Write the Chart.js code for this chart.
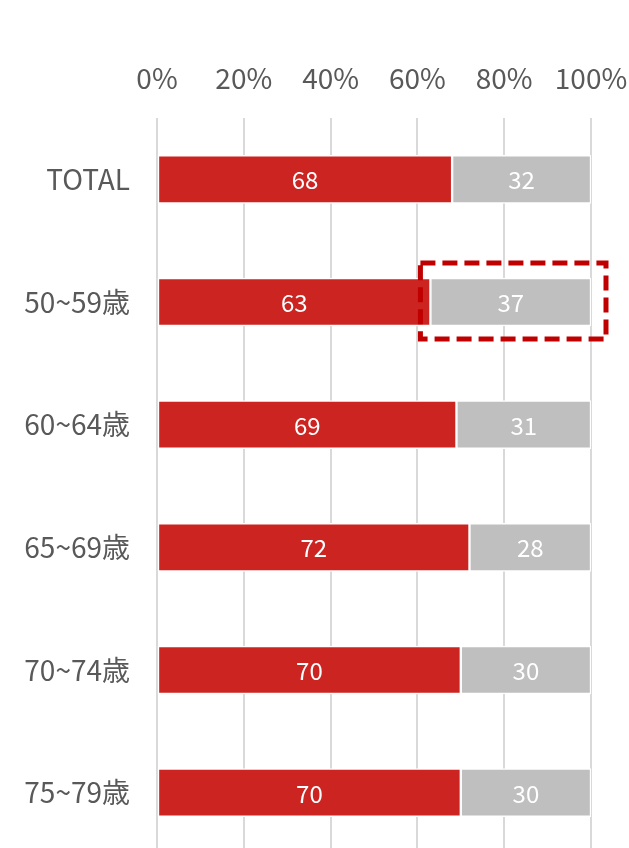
<!DOCTYPE html>
<html>
<head>
<meta charset="utf-8">
<script src="https://cdn.jsdelivr.net/npm/chart.js@4"></script>
<style>
  html, body { margin: 0; padding: 0; background: #fff; overflow: hidden; }
  #wrap { width: 629px; height: 848px; overflow: hidden; }
</style>
</head>
<body>
<div id="wrap"><canvas id="ageChart" width="629" height="854"></canvas></div>
<script>
// age groups and the two shares (%)
const categories = ['TOTAL', '50~59歳', '60~64歳', '65~69歳', '70~74歳', '75~79歳'];
const redValues = [68, 63, 69, 72, 70, 70];
const greyValues = [32, 37, 31, 28, 30, 30];
const tickValues = [0, 20, 40, 60, 80, 100];

const FONT = '"Noto Sans CJK JP", "Noto Sans", sans-serif';

// white numbers in the middle of each segment
const barLabels = {
    id: 'barLabels',
    afterDatasetsDraw(chart) {
        const ctx = chart.ctx;
        ctx.save();
        ctx.fillStyle = '#ffffff';
        ctx.font = '24px ' + FONT;
        ctx.textAlign = 'center';
        ctx.textBaseline = 'middle';
        chart.data.datasets.forEach((ds, i) => {
            chart.getDatasetMeta(i).data.forEach((bar, j) => {
                const x = (bar.base + bar.x) / 2;
                ctx.fillText(ds.data[j], x, bar.y + 1);
            });
        });
        ctx.restore();
    }
};

// dashed box around the grey segment of 50~59歳
const highlightBox = {
    id: 'highlightBox',
    afterDatasetsDraw(chart) {
        const bar = chart.getDatasetMeta(1).data[1];
        const ctx = chart.ctx;
        const top = bar.y - bar.height / 2;
        const bottom = bar.y + bar.height / 2;
        ctx.save();
        ctx.strokeStyle = '#c00000';
        ctx.lineWidth = 5;
        ctx.setLineDash([15, 7]);
        ctx.strokeRect(bar.base - 10, top - 15, (bar.x - bar.base) + 25, bottom - top + 28);
        ctx.restore();
    }
};

new Chart(document.getElementById('ageChart').getContext('2d'), {
    type: 'bar',
    data: {
        labels: categories,
        datasets: [{
            data: redValues,
            backgroundColor: '#cc2421',
            borderColor: '#ffffff',
            borderWidth: 1.5,
            borderSkipped: false,
            barThickness: 48
        }, {
            data: greyValues,
            backgroundColor: '#bfbfbf',
            borderColor: '#ffffff',
            borderWidth: 1.5,
            borderSkipped: false,
            barThickness: 48
        }]
    },
    options: {
        indexAxis: 'y',
        responsive: false,
        animation: false,
        layout: { padding: 0 },
        scales: {
            x: {
                position: 'top',
                stacked: true,
                min: 0,
                max: 100,
                afterBuildTicks: scale => {
                    scale.ticks = tickValues.map(v => ({ value: v }));
                },
                afterFit: scale => {
                    scale.height = 118;
                    scale.paddingLeft = 0;
                    scale.paddingRight = 38;
                },
                border: { display: false },
                grid: { color: '#d9d9d9', lineWidth: 2, drawTicks: false },
                ticks: {
                    color: '#595959',
                    padding: 23,
                    maxRotation: 0,
                    font: { family: FONT, size: 28 },
                    callback: v => v + '%'
                }
            },
            y: {
                stacked: true,
                afterFit: scale => {
                    scale.width = 157;
                    scale.paddingTop = 0;
                    scale.paddingBottom = 0;
                },
                border: { display: false },
                grid: { display: false, drawTicks: false },
                ticks: {
                    color: '#595959',
                    padding: 27,
                    font: { family: FONT, size: 28 }
                }
            }
        },
        plugins: {
            legend: { display: false },
            tooltip: { enabled: false }
        }
    },
    plugins: [barLabels, highlightBox]
});
</script>
</body>
</html>
